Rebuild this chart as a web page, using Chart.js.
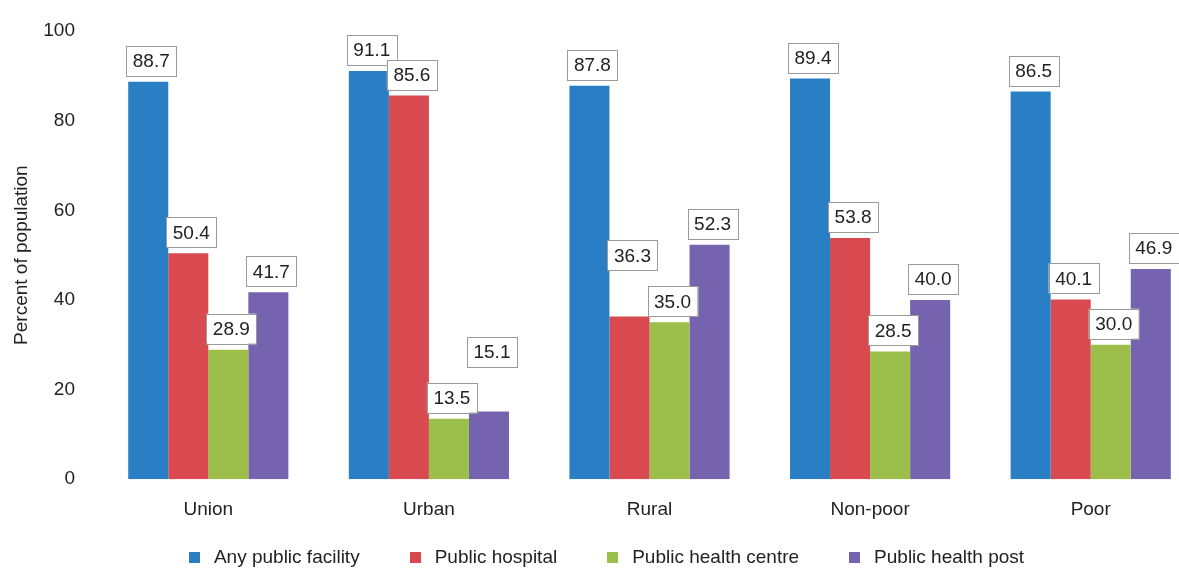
<!DOCTYPE html>
<html>
<head>
<meta charset="utf-8">
<script src="https://cdn.jsdelivr.net/npm/chart.js@4/dist/chart.umd.min.js"></script>
<style>
html,body{margin:0;padding:0;background:#fff;overflow:hidden;}
#wrap{width:1201px;height:571px;position:relative;}
#legend{position:absolute;top:546px;left:0;width:1213px;display:flex;justify-content:center;
  font-family:'Liberation Sans',Arial,sans-serif;font-size:19px;color:#222;line-height:22px;}
#legend .item{display:flex;align-items:center;margin:0 25px;}
#legend .sw{width:11px;height:11px;margin-right:14px;}
</style>
</head>
<body>
<div id="wrap"><canvas id="c"></canvas><div id="legend"></div></div>
<script>
const categories = ["Union", "Urban", "Rural", "Non-poor", "Poor"];
const seriesNames = ["Any public facility", "Public hospital", "Public health centre", "Public health post"];
const anyPublic = [88.7, 91.1, 87.8, 89.4, 86.5];
const publicHospital = [50.4, 85.6, 36.3, 53.8, 40.1];
const healthCentre = [28.9, 13.5, 35.0, 28.5, 30.0];
const healthPost = [41.7, 15.1, 52.3, 40.0, 46.9];
const yTicks = [0, 20, 40, 60, 80, 100];
const colors = ["#2a7fc4", "#d84a4f", "#9cbf4b", "#7563b0"];

const FONT = "'Liberation Sans', Arial, sans-serif";

// HTML legend built from series names and colours
const lg = document.getElementById('legend');
seriesNames.forEach((n, k) => {
  const it = document.createElement('div'); it.className = 'item';
  const sw = document.createElement('span'); sw.className = 'sw'; sw.style.background = colors[k];
  const tx = document.createElement('span'); tx.textContent = n;
  it.appendChild(sw); it.appendChild(tx); lg.appendChild(it);
});

const labelPlugin = {
  id: 'valueBoxes',
  afterDatasetsDraw(chart) {
    const ctx = chart.ctx;
    ctx.save();
    ctx.font = "19px " + FONT;
    ctx.textAlign = 'center';
    ctx.textBaseline = 'middle';
    const nCat = chart.data.labels.length;
    const w = 50, h = 30;
    for (let i = 0; i < nCat; i++) {
      const boxes = chart.data.datasets.map((ds, di) => {
        const bar = chart.getDatasetMeta(di).data[i];
        return {x: bar.x + 3 - w/2, y: bar.y - 6 - h, v: ds.data[i]};
      });
      for (let k = 1; k < boxes.length; k++) {
        const a = boxes[k-1], b = boxes[k];
        const ov = Math.min(a.y + h, b.y + h) - Math.max(a.y, b.y);
        if (ov > 15 && a.x + w > b.x) {
          if (a.y <= b.y) a.y = b.y - h - 16; else b.y = a.y - h - 16;
        }
      }
      boxes.forEach(bx => {
        ctx.fillStyle = '#ffffff';
        ctx.fillRect(bx.x, bx.y, w, h);
        ctx.strokeStyle = '#9a9a9a';
        ctx.lineWidth = 1;
        ctx.strokeRect(Math.round(bx.x) + 0.5, Math.round(bx.y) + 0.5, w, h);
        ctx.fillStyle = '#222';
        ctx.fillText(bx.v.toFixed(1), bx.x + w/2, bx.y + h/2 + 1);
      });
    }
    ctx.restore();
  }
};

const seriesData = [anyPublic, publicHospital, healthCentre, healthPost];
new Chart(document.getElementById('c'), {
  type: 'bar',
  data: {
    labels: categories,
    datasets: seriesNames.map((n, k) => ({
      label: n,
      data: seriesData[k],
      backgroundColor: colors[k],
      borderWidth: 0,
      barPercentage: 1.0,
      categoryPercentage: 0.726
    }))
  },
  options: {
    responsive: true,
    maintainAspectRatio: false,
    animation: false,
    layout: {padding: {left: 10, top: 31, right: 0, bottom: 39}},
    plugins: {
      legend: {display: false},
      tooltip: {enabled: false}
    },
    scales: {
      x: {
        grid: {display: false},
        border: {display: false},
        ticks: {color: '#222', font: {family: FONT, size: 19}, padding: 11}
      },
      y: {
        min: 0, max: 100,
        afterBuildTicks(scale) { scale.ticks = yTicks.map(v => ({value: v})); },
        afterFit(scale) { scale.width = 88; },
        grid: {display: false},
        border: {display: false},
        ticks: {color: '#222', font: {family: FONT, size: 19}, padding: 15},
        title: {display: true, text: 'Percent of population', color: '#222', font: {family: FONT, size: 19}, padding: {top: 0, bottom: 3}}
      }
    }
  },
  plugins: [labelPlugin]
});
</script>
</body>
</html>
